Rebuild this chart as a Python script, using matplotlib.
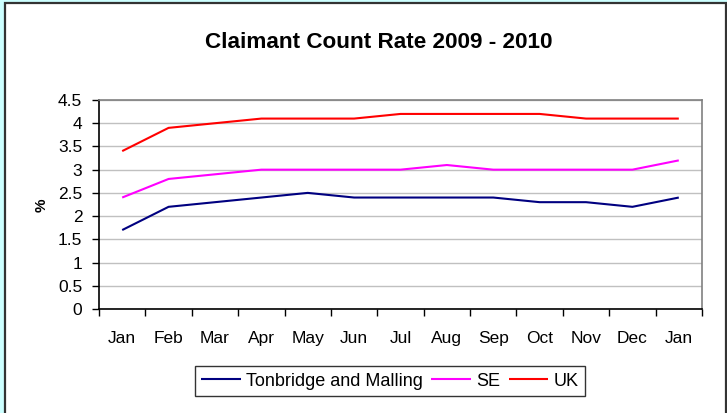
import matplotlib
matplotlib.use("Agg")
import matplotlib.pyplot as plt
from matplotlib.patches import Rectangle
import numpy as np

plt.rcParams['font.family'] = ['Liberation Sans', 'DejaVu Sans']

months = ["Jan", "Feb", "Mar", "Apr", "May", "Jun", "Jul", "Aug", "Sep", "Oct", "Nov", "Dec", "Jan"]
tonbridge = [1.7, 2.2, 2.3, 2.4, 2.5, 2.4, 2.4, 2.4, 2.4, 2.3, 2.3, 2.2, 2.4]
se = [2.4, 2.8, 2.9, 3.0, 3.0, 3.0, 3.0, 3.1, 3.0, 3.0, 3.0, 3.0, 3.2]
uk = [3.4, 3.9, 4.0, 4.1, 4.1, 4.1, 4.2, 4.2, 4.2, 4.2, 4.1, 4.1, 4.1]
series_names = ["Tonbridge and Malling", "SE", "UK"]
series_colors = ["#000080", "#FF00FF", "#FF0000"]
yticks = [0, 0.5, 1, 1.5, 2, 2.5, 3, 3.5, 4, 4.5]
ytick_labels = ["0", "0.5", "1", "1.5", "2", "2.5", "3", "3.5", "4", "4.5"]

W, H = 727, 413
FS = 12.5
fig = plt.figure(figsize=(W / 100, H / 100), dpi=100)
fig.patch.set_facecolor("#CCFFFF")

# white chart area with dark border
fig.patches.append(Rectangle((4.5 / W, -0.05), (725.5 - 4.5) / W, 1.05 - 3.5 / H,
                             transform=fig.transFigure, facecolor="white",
                             edgecolor="#333333", linewidth=1.6, zorder=-5))

ax = fig.add_axes([99 / W, 1 - 309 / H, (702 - 99) / W, (309 - 100) / H])
ax.set_zorder(1)
ax.set_facecolor("white")

x = np.arange(len(months))
for vals, name, col in zip([tonbridge, se, uk], series_names, series_colors):
    ax.plot(x, vals, color=col, linewidth=1.5, label=name, solid_capstyle="butt")

ax.set_xlim(-0.5, len(months) - 0.5)
ax.set_ylim(0, 4.5)
ax.set_yticks(yticks)
ax.set_yticklabels(ytick_labels, fontsize=FS)
ax.yaxis.grid(True, color="#C0C0C0", linewidth=1)
ax.set_axisbelow(True)

ax.set_xticks(np.arange(-0.5, len(months), 1.0))
ax.set_xticklabels([])
ax.set_xticks(x, minor=True)
ax.set_xticklabels(months, minor=True, fontsize=FS)
ax.tick_params(axis="x", which="major", length=5, width=1, direction="out", color="black")
ax.tick_params(axis="x", which="minor", length=0, pad=16)
ax.tick_params(axis="y", length=5, width=1, direction="out", pad=7)

for s in ["left", "bottom"]:
    ax.spines[s].set_color("black")
    ax.spines[s].set_linewidth(1.2)
for s in ["top", "right"]:
    ax.spines[s].set_color("#808080")
    ax.spines[s].set_linewidth(1.2)

fig.text(42 / W, 1 - 205 / H, "%", rotation=90, ha="center", va="center",
         fontsize=11, fontweight="bold")

fig.text(379 / W, 1 - 42 / H, "Claimant Count Rate 2009 - 2010",
         ha="center", va="center", fontsize=16.2, fontweight="bold", zorder=2)

leg = ax.legend(loc="center", bbox_to_anchor=(390 / W, 1 - 381 / H),
                bbox_transform=fig.transFigure, ncol=3, frameon=True, fancybox=False,
                fontsize=13, handlelength=2.2, handletextpad=0.3, columnspacing=0.45,
                borderpad=0.35, borderaxespad=0)
leg.get_frame().set_edgecolor("black")
leg.get_frame().set_linewidth(1)

fig.savefig("out.png", dpi=100, facecolor=fig.get_facecolor())
